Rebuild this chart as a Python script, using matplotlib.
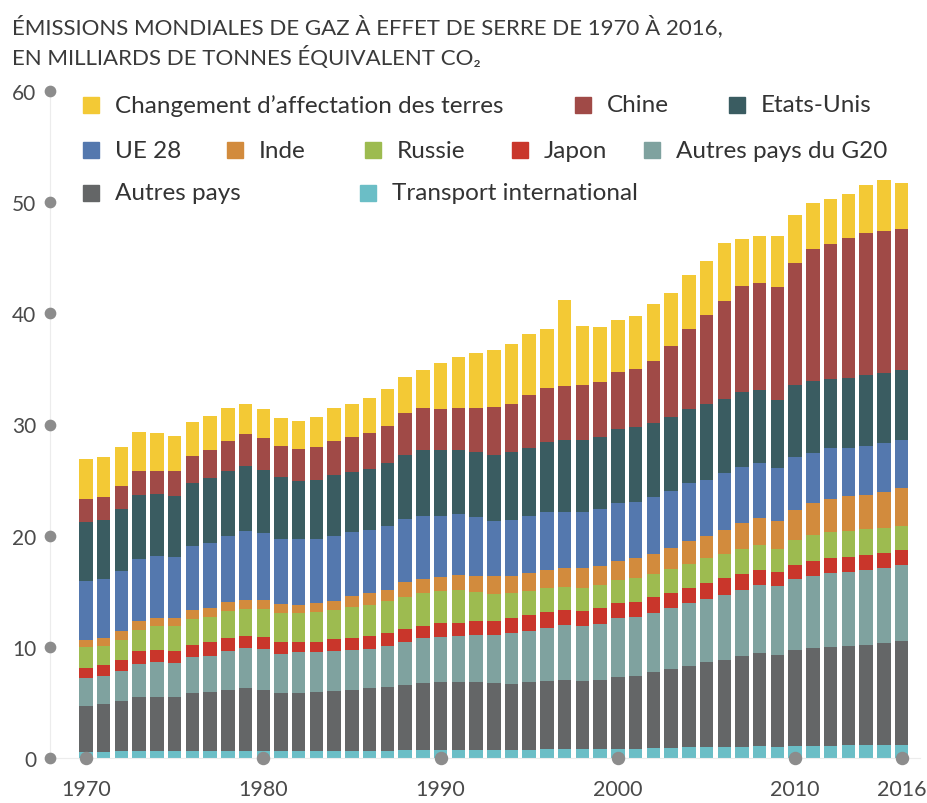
import numpy as np
import matplotlib
matplotlib.use("Agg")
import matplotlib.pyplot as plt
from matplotlib.patches import Rectangle

plt.rcParams['font.family'] = ['Lato', 'DejaVu Sans']

# Données (milliards de tonnes équivalent CO2)
annees = list(range(1970, 2017))

transport = [0.57, 0.57, 0.6, 0.6, 0.6, 0.6, 0.6, 0.6, 0.6, 0.6,
             0.6, 0.6, 0.6, 0.6, 0.6, 0.6, 0.65, 0.65, 0.7, 0.7,
             0.7, 0.7, 0.7, 0.7, 0.75, 0.75, 0.8, 0.8, 0.8, 0.8,
             0.85, 0.85, 0.9, 0.9, 0.95, 0.95, 1.0, 1.0, 1.05, 1.0,
             1.1, 1.1, 1.1, 1.15, 1.15, 1.2, 1.2]
autres = [4.13, 4.28, 4.49, 4.91, 4.91, 4.91, 5.24, 5.3, 5.52, 5.67,
          5.52, 5.22, 5.22, 5.31, 5.4, 5.52, 5.62, 5.71, 5.86, 6.04,
          6.1, 6.1, 6.1, 6.04, 5.9, 6.11, 6.15, 6.24, 6.15, 6.24,
          6.41, 6.5, 6.84, 7.11, 7.36, 7.67, 7.84, 8.19, 8.36, 8.31,
          8.66, 8.83, 8.9, 8.95, 9.02, 9.14, 9.31]
g20 = [2.46, 2.49, 2.7, 2.94, 3.09, 3.03, 3.27, 3.3, 3.53, 3.59,
       3.68, 3.53, 3.68, 3.59, 3.65, 3.62, 3.53, 3.68, 3.84, 4.02,
       4.05, 4.14, 4.26, 4.32, 4.56, 4.59, 4.71, 4.92, 4.95, 5.01,
       5.3, 5.3, 5.34, 5.48, 5.65, 5.72, 5.81, 5.96, 6.18, 6.16,
       6.3, 6.47, 6.68, 6.64, 6.75, 6.75, 6.85]
japon = [0.96, 1.02, 1.05, 1.14, 1.11, 1.11, 1.08, 1.2, 1.11, 1.08,
         1.05, 1.05, 0.9, 0.9, 1.05, 1.02, 1.2, 1.2, 1.2, 1.14,
         1.26, 1.2, 1.23, 1.29, 1.35, 1.41, 1.44, 1.38, 1.35, 1.44,
         1.38, 1.41, 1.41, 1.32, 1.35, 1.41, 1.51, 1.38, 1.29, 1.22,
         1.3, 1.3, 1.3, 1.37, 1.36, 1.37, 1.37]
russie = [1.83, 1.74, 1.8, 1.95, 2.13, 2.19, 2.31, 2.25, 2.49, 2.46,
          2.55, 2.61, 2.64, 2.7, 2.64, 2.79, 2.76, 2.91, 2.91, 2.91,
          2.94, 3.0, 2.67, 2.4, 2.25, 2.19, 2.19, 2.07, 2.04, 2.07,
          2.07, 2.1, 2.04, 2.2, 2.17, 2.2, 2.2, 2.3, 2.26, 2.07,
          2.23, 2.33, 2.39, 2.33, 2.33, 2.22, 2.16]
inde = [0.65, 0.69, 0.75, 0.76, 0.72, 0.72, 0.8, 0.84, 0.75, 0.84,
        0.84, 0.84, 0.75, 0.81, 0.81, 0.99, 1.05, 0.99, 1.29, 1.29,
        1.2, 1.32, 1.44, 1.59, 1.53, 1.59, 1.62, 1.65, 1.77, 1.74,
        1.74, 1.8, 1.83, 1.88, 2.04, 1.98, 2.19, 2.35, 2.42, 2.58,
        2.74, 2.88, 2.92, 3.09, 3.09, 3.29, 3.42]
ue28 = [5.3, 5.31, 5.46, 5.6, 5.64, 5.49, 5.8, 5.84, 5.99, 6.14,
        5.99, 5.84, 5.9, 5.78, 5.84, 5.75, 5.72, 5.69, 5.69, 5.69,
        5.54, 5.48, 5.24, 4.94, 5.06, 5.09, 5.24, 5.09, 5.09, 5.09,
        5.15, 5.09, 5.11, 5.12, 5.18, 5.11, 5.12, 5.03, 4.96, 4.71,
        4.72, 4.49, 4.58, 4.34, 4.38, 4.35, 4.28]
usa = [5.35, 5.33, 5.54, 5.78, 5.54, 5.55, 5.63, 5.85, 5.85, 5.91,
       5.7, 5.55, 5.25, 5.34, 5.46, 5.4, 5.46, 5.67, 5.79, 5.94,
       5.94, 5.76, 5.85, 6.0, 6.09, 6.15, 6.3, 6.48, 6.48, 6.51,
       6.69, 6.69, 6.66, 6.69, 6.69, 6.82, 6.66, 6.75, 6.59, 6.18,
       6.48, 6.5, 6.2, 6.34, 6.41, 6.34, 6.31]
chine = [2.05, 2.01, 2.11, 2.16, 2.1, 2.18, 2.4, 2.55, 2.7, 2.85,
         2.82, 2.79, 2.85, 2.91, 3.09, 3.15, 3.24, 3.39, 3.71, 3.71,
         3.65, 3.74, 3.95, 4.25, 4.34, 4.76, 4.82, 4.85, 4.94, 4.88,
         5.15, 5.24, 5.56, 6.34, 7.19, 8.01, 8.79, 9.48, 9.64, 10.15,
         10.96, 11.89, 12.13, 12.61, 12.77, 12.74, 12.7]
terres = [3.6, 3.66, 3.44, 3.46, 3.36, 3.22, 3.12, 3.07, 2.9, 2.69,
          2.63, 2.55, 2.54, 2.7, 2.9, 2.99, 3.12, 3.29, 3.24, 3.45,
          4.11, 4.59, 4.95, 5.19, 5.4, 5.49, 5.31, 7.74, 5.31, 5.01,
          4.68, 4.74, 5.18, 4.8, 4.9, 4.86, 5.24, 4.24, 4.24, 4.61,
          4.38, 4.11, 4.11, 3.87, 4.25, 4.55, 4.08]

# ordre d'empilement, du bas vers le haut
series = [
    ("Transport international", transport, "#6bbec6"),
    ("Autres pays", autres, "#646667"),
    ("Autres pays du G20", g20, "#7fa29f"),
    ("Japon", japon, "#c9362b"),
    ("Russie", russie, "#9dbb50"),
    ("Inde", inde, "#d28b3d"),
    ("UE 28", ue28, "#5478ae"),
    ("Etats-Unis", usa, "#3a5c61"),
    ("Chine", chine, "#a04a47"),
    ("Changement d\u2019affectation des terres", terres, "#f3c935"),
]

W, H = 928, 804
fig = plt.figure(figsize=(W / 100, H / 100), dpi=100)
ax = fig.add_axes([50 / W, 45 / H, 870 / W, 667 / H])

bas = np.zeros(len(annees))
for nom, vals, coul in series:
    ax.bar(annees, vals, bottom=bas, width=0.76, color=coul, linewidth=0)
    bas = bas + np.array(vals)

ax.set_xlim(1967.97, 2017.04)
ax.set_ylim(0, 60)

for s in ["top", "right"]:
    ax.spines[s].set_visible(False)
ax.spines["left"].set_color("#ececec")
ax.spines["bottom"].set_color("#ececec")

ax.set_yticks(range(0, 61, 10))
ax.tick_params(axis="y", length=0, pad=10, labelsize=15, labelcolor="#4a4a4a")
xt = [1970, 1980, 1990, 2000, 2010, 2016]
ax.set_xticks(xt)
ax.tick_params(axis="x", length=0, pad=15, labelsize=15.5, labelcolor="#4a4a4a")

# points gris sur les axes
ax.scatter([0] * 7, range(0, 61, 10), s=55, color="#8c8c8c",
           transform=ax.get_yaxis_transform(), clip_on=False, zorder=5)
ax.scatter(xt, [0] * len(xt), s=75, color="#8c8c8c", clip_on=False, zorder=5)

# titre
fig.text(12 / W, 1 - 27 / H, "ÉMISSIONS MONDIALES DE GAZ À EFFET DE SERRE DE 1970 À 2016,",
         fontsize=16, color="#3a3a3a", va="center")
fig.text(12 / W, 1 - 58 / H, "EN MILLIARDS DE TONNES ÉQUIVALENT CO\u2082",
         fontsize=16, color="#3a3a3a", va="center")

# légende manuelle
legende = [
    (9, 83, 106), (8, 575, 106), (7, 729, 106),
    (6, 83, 151), (5, 227, 151), (4, 365, 151), (3, 512, 151), (2, 644, 151),
    (1, 83, 194), (0, 360, 194),
]
for i, px, py in legende:
    nom, vals, coul = series[i]
    fig.patches.append(Rectangle((px / W, 1 - (py + 8) / H), 16 / W, 16 / H,
                                 transform=fig.transFigure, color=coul))
    fig.text((px + 32) / W, 1 - py / H, nom, fontsize=17.5, color="#333333", va="center")

plt.savefig("out.png", dpi=100)
